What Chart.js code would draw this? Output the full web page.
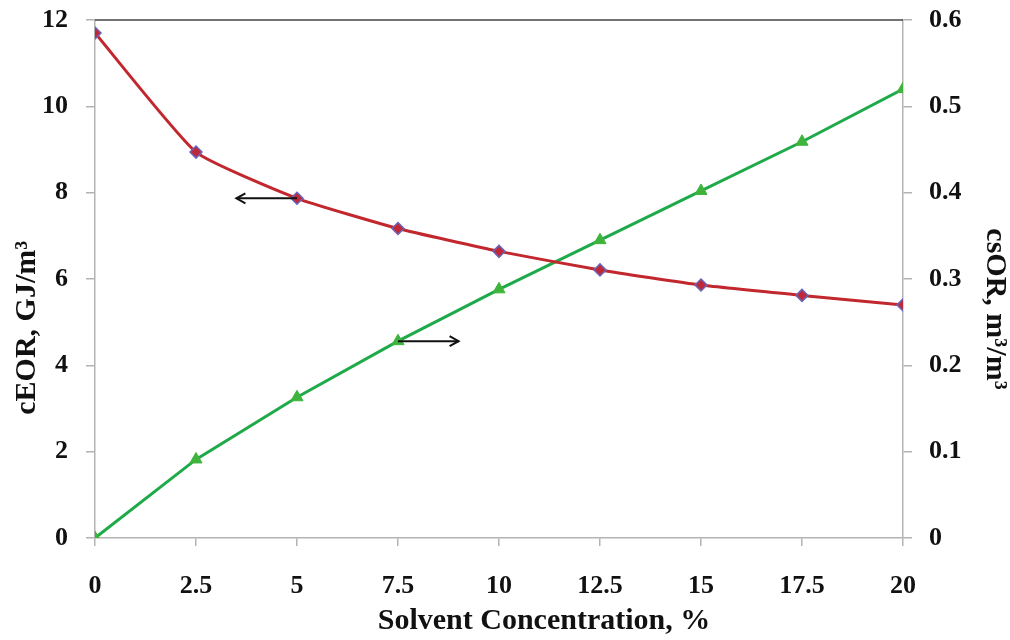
<!DOCTYPE html>
<html>
<head>
<meta charset="utf-8">
<script src="https://cdn.jsdelivr.net/npm/chart.js@4/dist/chart.umd.min.js"></script>
<style>
  html, body { margin: 0; padding: 0; background: #ffffff; }
  #wrap { width: 1010px; height: 640px; position: relative; }
</style>
</head>
<body>
<div id="wrap"><canvas id="c" width="1010" height="640"></canvas></div>
<script>
// ---- data ----
const solventConc = [0, 2.5, 5, 7.5, 10, 12.5, 15, 17.5, 20];
const cEOR = [11.70, 8.94, 7.87, 7.17, 6.64, 6.21, 5.86, 5.62, 5.40];
const csOR = [0.000, 0.091, 0.163, 0.228, 0.288, 0.345, 0.402, 0.459, 0.520];
const xTickLabels = ['0', '2.5', '5', '7.5', '10', '12.5', '15', '17.5', '20'];
const leftTickLabels = ['0', '2', '4', '6', '8', '10', '12'];
const rightTickLabels = ['0', '0.1', '0.2', '0.3', '0.4', '0.5', '0.6'];
// arrows: [xFrom, xTo, y, axis]
const arrowLeft = [5, 3.5, 7.87, 'y'];
const arrowRight = [7.5, 9.0, 0.228, 'y1'];

const FONT = "'Liberation Serif', 'Times New Roman', serif";
const AXIS_COLOR = '#b3b3b3';
const NB = '\u00A0';

const arrowPlugin = {
  id: 'arrows',
  afterDatasetsDraw(chart) {
    const ctx = chart.ctx;
    const xs = chart.scales.x;
    [arrowLeft, arrowRight].forEach(a => {
      const ys = chart.scales[a[3]];
      const x1 = xs.getPixelForValue(a[0]);
      const x2 = xs.getPixelForValue(a[1]);
      const y = ys.getPixelForValue(a[2]);
      const dir = Math.sign(x2 - x1);
      ctx.save();
      ctx.strokeStyle = '#111';
      ctx.lineWidth = 2;
      ctx.beginPath();
      ctx.moveTo(x1, y);
      ctx.lineTo(x2, y);
      ctx.stroke();
      ctx.beginPath();
      ctx.moveTo(x2 - dir * 9, y - 5);
      ctx.lineTo(x2, y);
      ctx.lineTo(x2 - dir * 9, y + 5);
      ctx.stroke();
      ctx.restore();
    });
  }
};

const topBorderPlugin = {
  id: 'topBorder',
  beforeDatasetsDraw(chart) {
    const { ctx, chartArea } = chart;
    ctx.save();
    ctx.strokeStyle = '#444';
    ctx.lineWidth = 1.5;
    ctx.beginPath();
    ctx.moveTo(chartArea.left, chartArea.top);
    ctx.lineTo(chartArea.right, chartArea.top);
    ctx.stroke();
    ctx.restore();
  }
};

const tickFont = { family: FONT, size: 26, weight: 'bold' };
const titleFont = { family: FONT, size: 30, weight: 'bold', lineHeight: 1 };

new Chart(document.getElementById('c'), {
  type: 'line',
  data: {
    datasets: [
      {
        label: 'cEOR',
        data: solventConc.map((x, i) => ({ x: x, y: cEOR[i] })),
        yAxisID: 'y',
        borderColor: '#c1272d',
        borderWidth: 3,
        tension: 0.15,
        pointStyle: 'rectRot',
        pointRadius: 6,
        pointBackgroundColor: '#c0283a',
        pointBorderColor: '#6b63b5',
        pointBorderWidth: 1.5
      },
      {
        label: 'csOR',
        data: solventConc.map((x, i) => ({ x: x, y: csOR[i] })),
        yAxisID: 'y1',
        borderColor: '#1faa4a',
        borderWidth: 3,
        tension: 0,
        pointStyle: 'triangle',
        pointRadius: 7,
        pointBackgroundColor: '#3fb43c',
        pointBorderColor: '#3fb43c',
        pointBorderWidth: 1
      }
    ]
  },
  options: {
    responsive: false,
    animation: false,
    layout: { padding: { top: 20, left: 0, right: 0, bottom: 0 } },
    plugins: { legend: { display: false }, tooltip: { enabled: false } },
    scales: {
      x: {
        type: 'linear',
        min: 0, max: 20,
        afterBuildTicks(s) { s.ticks = solventConc.map(v => ({ value: v })); },
        afterFit(s) { s.height = 102; },
        grid: { drawOnChartArea: false, drawTicks: true, tickLength: 8, color: AXIS_COLOR, lineWidth: 1.5 },
        border: { color: AXIS_COLOR, width: 1.5 },
        ticks: {
          padding: 25,
          color: '#111',
          font: tickFont,
          callback: (v, i) => xTickLabels[i]
        },
        title: {
          display: true,
          text: NB.repeat(12) + 'Solvent Concentration, %',
          color: '#111',
          font: titleFont,
          padding: { top: 0, bottom: 4 }
        }
      },
      y: {
        position: 'left',
        min: 0, max: 12,
        ticks: {
          stepSize: 2,
          padding: 18,
          color: '#111',
          font: tickFont,
          callback: (v, i) => leftTickLabels[i]
        },
        afterFit(s) { s.width = 95; s.paddingTop = 0; s.paddingBottom = 0; },
        grid: { drawOnChartArea: false, drawTicks: true, tickLength: 9, color: AXIS_COLOR, lineWidth: 1.5 },
        border: { color: AXIS_COLOR, width: 1.5 },
        title: {
          display: true,
          text: 'cEOR, GJ/m³' + NB.repeat(13),
          color: '#111',
          font: titleFont,
          padding: { top: 12, bottom: 0 }
        }
      },
      y1: {
        position: 'right',
        min: 0, max: 0.6,
        ticks: {
          stepSize: 0.1,
          padding: 17,
          color: '#111',
          font: tickFont,
          callback: (v, i) => rightTickLabels[i]
        },
        afterFit(s) { s.width = 107; s.paddingTop = 0; s.paddingBottom = 0; },
        grid: { drawOnChartArea: false, drawTicks: true, tickLength: 9, color: AXIS_COLOR, lineWidth: 1.5 },
        border: { color: AXIS_COLOR, width: 1.5 },
        title: {
          display: true,
          text: NB.repeat(8) + 'csOR, m³/m³',
          color: '#111',
          font: titleFont,
          padding: { top: 0, bottom: 0 }
        }
      }
    }
  },
  plugins: [arrowPlugin, topBorderPlugin]
});
</script>
</body>
</html>
